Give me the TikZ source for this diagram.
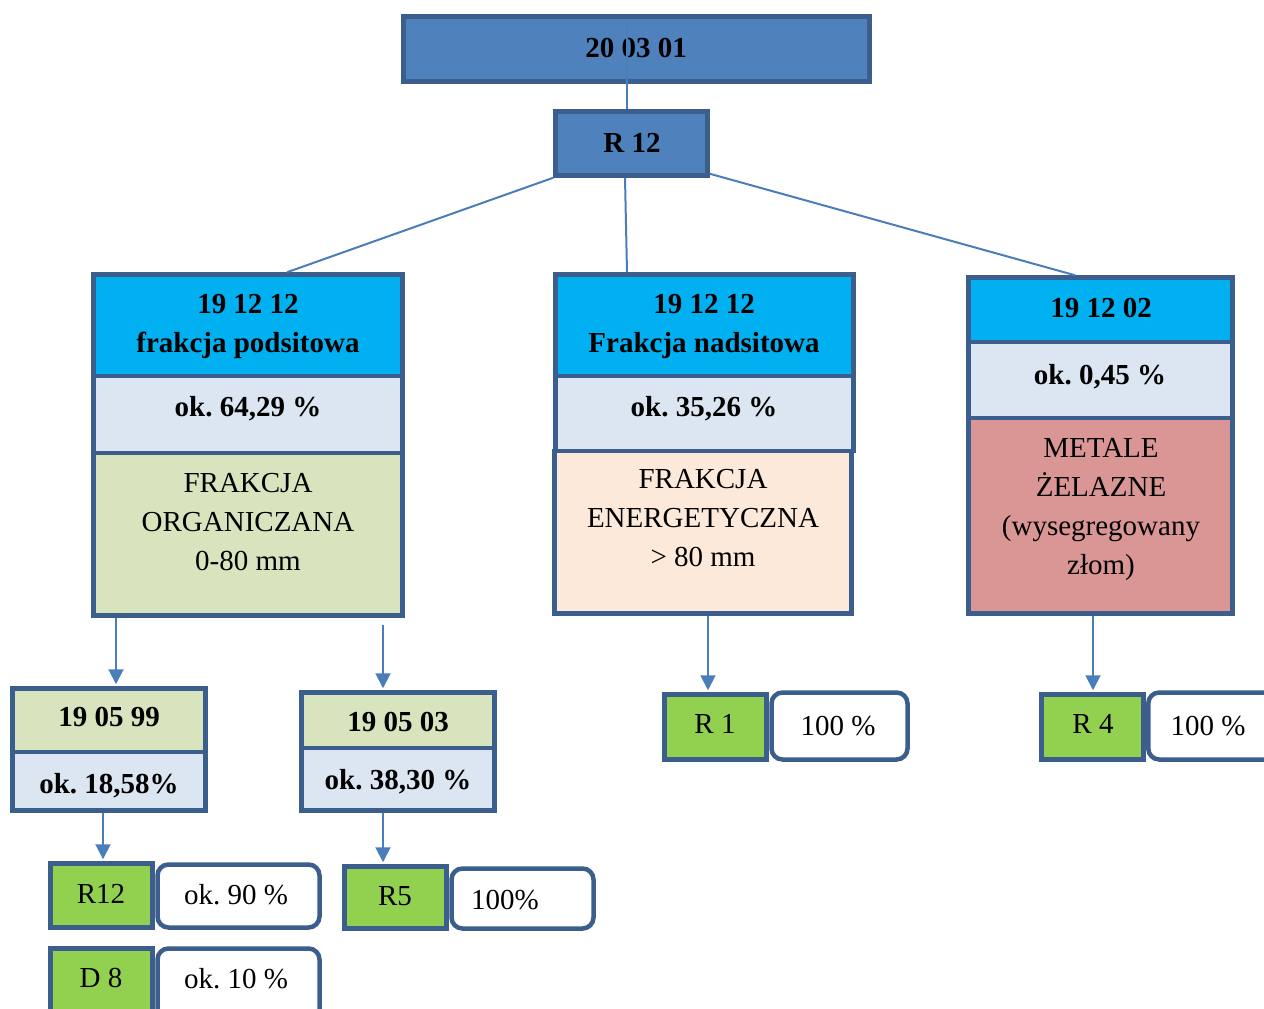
\documentclass[tikz,border=0pt]{standalone}
\usepackage{fontspec}
\setmainfont{Liberation Serif}
\usetikzlibrary{arrows.meta,calc}
\definecolor{bord}{HTML}{3B5E8C}
\definecolor{topblue}{HTML}{4F81BD}
\definecolor{cyanb}{HTML}{00B0F0}
\definecolor{lightb}{HTML}{DCE6F2}
\definecolor{palegreen}{HTML}{D7E4BD}
\definecolor{peach}{HTML}{FDE9D9}
\definecolor{reddish}{HTML}{D99694}
\definecolor{brightgreen}{HTML}{92D050}
\definecolor{lineblue}{HTML}{4A7EBB}
\frenchspacing
\begin{document}
\begin{tikzpicture}[x=1pt,y=-1pt,
  sec/.style={draw=bord,line width=4.5pt,rectangle,inner sep=0pt},
  pct/.style={sec,fill=white,rounded corners=11pt},
  conn/.style={draw=lineblue,line width=2pt},
  arr/.style={conn,-{Triangle[width=15pt,length=15pt]},shorten >=2pt},
  tb/.style={font=\bfseries\fontsize{29}{39}\selectfont,inner sep=0pt,align=center},
  tr/.style={font=\fontsize{29}{39}\selectfont,inner sep=0pt,align=center}]
\useasboundingbox (0,0) rectangle (1264,1009);
\clip (0,0) rectangle (1264,1009);
% boxes
\node[sec,fill=topblue,minimum width=466pt,minimum height=65pt] (top) at (636.5,49) {};
\node[sec,fill=topblue,minimum width=152pt,minimum height=64pt] (r12) at (631.5,143.5) {};
\node[sec,fill=cyanb,minimum width=309pt,minimum height=101.5pt] (L1) at (248,325.25) {};
\node[sec,fill=lightb,minimum width=309pt,minimum height=77pt] (L2) at (248,414.5) {};
\node[sec,fill=palegreen,minimum width=309pt,minimum height=162.5pt] (L3) at (248,534.25) {};
\node[sec,fill=cyanb,minimum width=298pt,minimum height=101.5pt] (M1) at (704.5,325.25) {};
\node[sec,fill=lightb,minimum width=298pt,minimum height=75pt] (M2) at (704.5,413.5) {};
\node[sec,fill=peach,minimum width=297pt,minimum height=162.5pt] (M3) at (703,532.25) {};
\node[sec,fill=cyanb,minimum width=264pt,minimum height=64.5pt] (R1) at (1100.5,309.75) {};
\node[sec,fill=lightb,minimum width=264pt,minimum height=76pt] (R2) at (1100.5,380) {};
\node[sec,fill=reddish,minimum width=264pt,minimum height=195.5pt] (R3) at (1100.5,515.75) {};
\node[sec,fill=palegreen,minimum width=193pt,minimum height=63.5pt] (A1) at (109,720.25) {};
\node[sec,fill=lightb,minimum width=193pt,minimum height=58.5pt] (A2) at (109,781.25) {};
\node[sec,fill=palegreen,minimum width=193pt,minimum height=55.5pt] (B1) at (398,720.25) {};
\node[sec,fill=lightb,minimum width=193pt,minimum height=62.5pt] (B2) at (398,779.25) {};
\node[sec,fill=brightgreen,minimum width=102pt,minimum height=64pt] (g1) at (101.5,895.5) {};
\node[pct,minimum width=162pt,minimum height=63pt] (p1) at (238.5,896) {};
\node[sec,fill=brightgreen,minimum width=102pt,minimum height=81pt] (g2) at (101.5,989) {};
\node[pct,minimum width=162pt,minimum height=81pt] (p2) at (238.5,989) {};
\node[sec,fill=brightgreen,minimum width=102pt,minimum height=62pt] (g3) at (395.5,897.5) {};
\node[pct,minimum width=142pt,minimum height=60pt] (p3) at (522.5,898.5) {};
\node[sec,fill=brightgreen,minimum width=102pt,minimum height=65pt] (g4) at (715.5,727) {};
\node[pct,minimum width=136pt,minimum height=67pt] (p4) at (839.5,726) {};
\node[sec,fill=brightgreen,minimum width=102pt,minimum height=65pt] (g5) at (1092.5,727) {};
\node[pct,minimum width=141.5pt,minimum height=67pt] (p5) at (1219,726) {};
% x positions for connectors
\coordinate (xa) at (116,0);
\coordinate (xb) at (383,0);
\coordinate (xc) at (103,0);
\coordinate (xe) at (708,0);
\coordinate (xf) at (1093,0);
\coordinate (xl) at (287,0);
% connectors
\draw[conn] (r12.south west) -- (L1.north -| xl);
\draw[conn] ($(r12.south)+(-6.5,0)$) -- ($(M1.north)+(-77.5,0)$);
\draw[conn] ($(r12.south east)+(0,-4)$) -- ($(R1.north)+(-25.5,0)$);
\draw[arr] (L3.south -| xa) -- (A1.north -| xa);
\draw[arr,shorten <=7pt] (L3.south -| xb) -- (B1.north -| xb);
\draw[arr] (A2.south -| xc) -- (g1.north -| xc);
\draw[arr] (B2.south -| xb) -- (g3.north -| xb);
\draw[arr] (M3.south -| xe) -- (g4.north -| xe);
\draw[arr] (R3.south -| xf) -- (g5.north -| xf);
% texts
\node[tb,anchor=base] (ttop) at (636,57) {20 03 01};
\node[tb,anchor=base] (tr12) at (632,152) {R 12};
\node[tb] (tL1) at (248,326) {19 12 12\\frakcja podsitowa};
\node[tb,anchor=base] (tL2) at (248,416) {ok. 64,29 \%};
\node[tr] (tL3) at (248,522) {FRAKCJA\\ORGANICZANA\\0-80 mm};
\node[tb] (tM1) at (704,326) {19 12 12\\Frakcja nadsitowa};
\node[tb,anchor=base] (tM2) at (704,416) {ok. 35,26 \%};
\node[tr] (tM3) at (703,518) {FRAKCJA\\ENERGETYCZNA\\> 80 mm};
\node[tb,anchor=base] (tR1) at (1101,317) {19 12 02};
\node[tb,anchor=base] (tR2) at (1100,384) {ok. 0,45 \%};
\node[tr] (tR3) at (1101,510) {METALE\\ŻELAZNE\\(wysegregowany\\złom)};
\node[tb,anchor=base] (tA1) at (109,726) {19 05 99};
\node[tb,anchor=base] (tA2) at (109,793) {ok. 18,58\%};
\node[tb,anchor=base] (tB1) at (398,731) {19 05 03};
\node[tb,anchor=base] (tB2) at (398,789) {ok. 38,30 \%};
\node[tr,anchor=base] (tg1) at (101,903) {R12};
\node[tr,anchor=base] (tp1) at (236,904) {ok. 90 \%};
\node[tr,anchor=base] (tg2) at (101,987) {D 8};
\node[tr,anchor=base] (tp2) at (236,988) {ok. 10 \%};
\node[tr,anchor=base] (tg3) at (395,905) {R5};
\node[tr,anchor=base] (tp3) at (505,909) {100\%};
\node[tr,anchor=base] (tg4) at (715,733) {R 1};
\node[tr,anchor=base] (tp4) at (838,735) {100 \%};
\node[tr,anchor=base] (tg5) at (1093,733) {R 4};
\node[tr,anchor=base] (tp5) at (1208,735) {100 \%};
% top connector drawn over the title text, as in the reference
\draw[conn] ($(top.center)+(-9.5,-22)$) -- ($(r12.north)+(-4.5,0)$);
\end{tikzpicture}
\end{document}
